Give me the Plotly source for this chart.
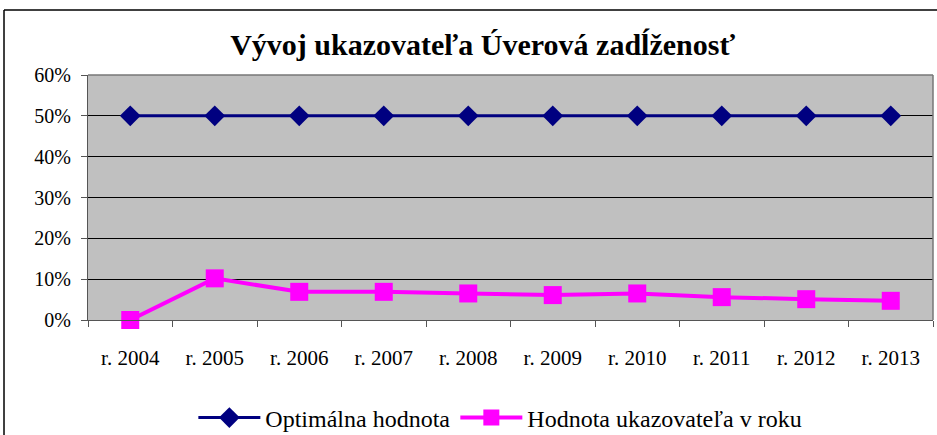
import plotly.graph_objects as go

categories = ["r. 2004", "r. 2005", "r. 2006", "r. 2007", "r. 2008",
              "r. 2009", "r. 2010", "r. 2011", "r. 2012", "r. 2013"]
optimal = [0.50] * 10
actual = [0.0, 0.102, 0.069, 0.069, 0.065, 0.061, 0.065, 0.056, 0.051, 0.047]
y_ticks = [0, 0.1, 0.2, 0.3, 0.4, 0.5, 0.6]

fig = go.Figure()
fig.add_trace(go.Scatter(
    x=categories, y=optimal, name="Optimálna hodnota", mode="lines+markers",
    line=dict(color="#000080", width=3),
    marker=dict(symbol="diamond", size=16, color="#000080"),
    cliponaxis=False,
))
fig.add_trace(go.Scatter(
    x=categories, y=actual, name="Hodnota ukazovateľa v roku", mode="lines+markers",
    line=dict(color="#FF00FF", width=4),
    marker=dict(symbol="square", size=18, color="#FF00FF"),
    cliponaxis=False,
))

font_family = "Liberation Serif, DejaVu Serif, serif"
fig.update_layout(
    width=937, height=435,
    margin=dict(l=88, r=4, t=75, b=115, autoexpand=False),
    paper_bgcolor="white", plot_bgcolor="#C0C0C0",
    font=dict(family=font_family, size=20, color="black"),
    title=dict(text="<b>Vývoj ukazovateľa Úverová zadĺženosť</b>",
               xref="paper", x=0.467, xanchor="center", y=0.897, yanchor="middle",
               font=dict(size=30, family=font_family)),
    showlegend=True,
    legend=dict(orientation="h", x=0.488, xanchor="center", y=-0.4, yanchor="middle",
                font=dict(size=24), itemwidth=62, bgcolor="rgba(0,0,0,0)"),
    xaxis=dict(type="category", tickson="boundaries", ticks="outside", ticklen=6,
               tickcolor="#555", showgrid=False, showline=True, linecolor="#555",
               linewidth=1, mirror=False, tickfont=dict(size=21),
               ticklabelstandoff=19, automargin=False,
               range=[-0.5, 9.5], zeroline=False),
    yaxis=dict(range=[0, 0.6], tickvals=y_ticks, tickformat=".0%",
               ticks="outside", ticklen=6, tickcolor="#555",
               showgrid=True, gridcolor="black", gridwidth=1,
               showline=True, linecolor="#555", linewidth=1,
               ticklabelstandoff=6, automargin=False,
               zeroline=False, tickfont=dict(size=20)),
    shapes=[
        dict(type="line", xref="paper", yref="paper", x0=-0.0994, x1=1.01,
             y0=1.265, y1=1.265, line=dict(color="black", width=1.5)),
        dict(type="line", xref="paper", yref="paper", x0=-0.0994, x1=-0.0994,
             y0=1.265, y1=-0.5, line=dict(color="black", width=1.5)),
        dict(type="line", xref="paper", yref="paper", x0=1, x1=1,
             y0=0, y1=1, line=dict(color="#777", width=1.5)),
        dict(type="line", xref="paper", yref="paper", x0=0, x1=1,
             y0=1, y1=1, line=dict(color="#777", width=1.5)),
    ],
)
fig.write_html("out.html", config={"displayModeBar": False},
               post_script="document.body.style.margin='0';")
